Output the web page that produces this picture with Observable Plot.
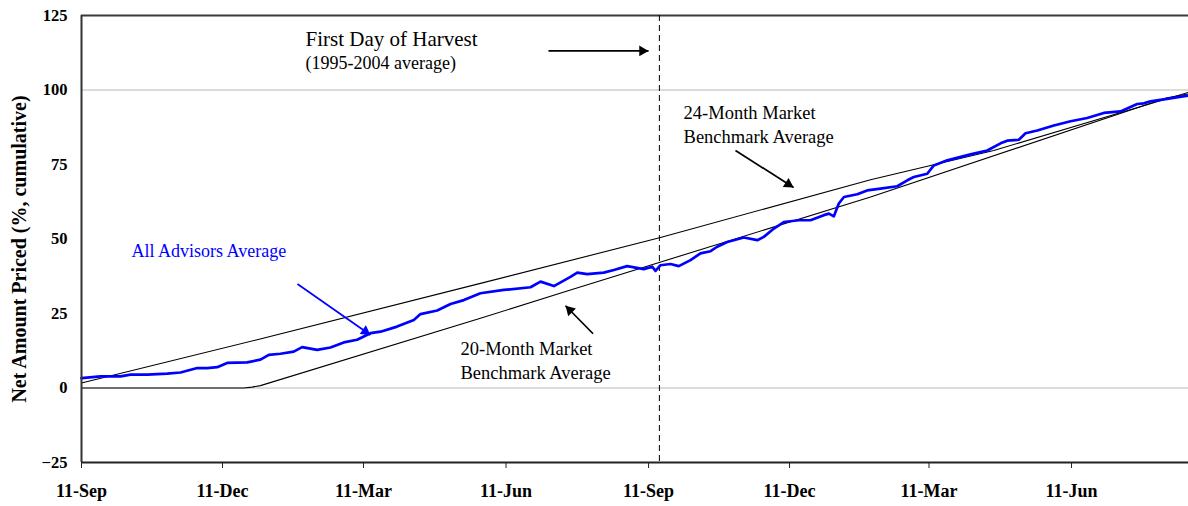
<!DOCTYPE html>
<html>
<head>
<meta charset="utf-8">
<script src="https://cdn.jsdelivr.net/npm/d3@7"></script>
<script src="https://cdn.jsdelivr.net/npm/@observablehq/plot@0.6"></script>
<style>
  html, body { margin: 0; padding: 0; background: #ffffff; }
  #chart { width: 1188px; height: 506px; }
</style>
</head>
<body>
<div id="chart"></div>
<script>
// ---- Data (days since 11-Sep of the first marketing year) ----
const startISO = "2003-09-11";
const endDay = 714.5;
const harvestDay = 373;

const xTickDates = ["2003-09-11", "2003-12-11", "2004-03-11", "2004-06-11",
                    "2004-09-11", "2004-12-11", "2005-03-11", "2005-06-11"];
const yTicks = [-25, 0, 25, 50, 75, 100, 125];
const gridValues = [0, 100];

const advisorDays = [0, 12.3, 25.2, 31.6, 42.4, 55.3, 63.9, 74.7, 81.1, 87.6, 94.0, 106.9, 115.5, 120.9,
  128.4, 137.0, 142.4, 152.1, 160.7, 169.3, 177.9, 186.5, 193.0, 203.7, 214.5, 218.8, 229.6, 238.2,
  246.8, 257.5, 272.6, 289.8, 296.3, 304.9, 315.6, 320.0, 326.4, 337.1, 343.6, 352.2, 362.9, 368.4,
  370.5, 373.7, 380.2, 385.5, 393.1, 399.5, 406.0, 410.3, 416.8, 427.5, 436.2, 440.4, 446.9, 453.3,
  463.0, 470.5, 479.1, 482.4, 485.6, 488.8, 492.1, 500.7, 507.1, 515.7, 526.5, 533.0, 537.2, 545.9,
  550.1, 558.8, 573.8, 584.6, 593.2, 597.5, 605.0, 609.3, 616.9, 627.6, 638.4, 649.1, 659.8, 670.6,
  681.4, 685.6, 690.0, 700.7, 714.5];
const advisorValues = [3.3, 3.9, 3.9, 4.5, 4.5, 4.8, 5.2, 6.7, 6.7, 7.0, 8.4, 8.6, 9.5, 11.1,
  11.5, 12.2, 13.7, 12.8, 13.6, 15.3, 16.2, 18.4, 18.9, 20.6, 22.8, 24.8, 26.0, 28.2,
  29.5, 31.8, 32.9, 33.8, 35.7, 34.2, 37.3, 38.7, 38.2, 38.7, 39.6, 40.9, 39.9, 40.7,
  39.3, 41.2, 41.6, 40.9, 42.9, 45.2, 45.9, 47.4, 49.0, 50.5, 49.6, 50.7, 53.5, 55.7,
  56.3, 56.3, 58.0, 58.5, 57.6, 61.9, 64.1, 65.0, 66.3, 66.9, 67.7, 69.7, 70.8, 71.9,
  74.7, 76.4, 78.4, 79.7, 82.1, 83.0, 83.3, 85.5, 86.4, 88.1, 89.5, 90.6, 92.3, 92.8,
  95.3, 95.5, 96.2, 97.0, 98.1];

const bench24Days = [0, 113.4, 257.5, 373.7, 509.3, 588.8, 714.5];
const bench24Values = [1.7, 16.2, 35.1, 50.5, 69.9, 79.7, 99.2];

const bench20Days = [0, 104.8, 110, 115.5, 257.5, 315.6, 509.3, 700.7, 714.5];
const bench20Values = [0, 0, 0.3, 0.8, 23.4, 32.9, 64.1, 97.4, 98.7];

// ---- Build tables ----
const start = new Date(startISO + "T00:00:00Z");
const toDate = d => new Date(+start + d * 864e5);
const series = (days, vals) => days.map((d, i) => ({date: toDate(d), value: vals[i]}));
const advisors = series(advisorDays, advisorValues);
const bench24 = series(bench24Days, bench24Values);
const bench20 = series(bench20Days, bench20Values);
const xTicks = xTickDates.map(s => new Date(s + "T00:00:00Z"));

const W = 1188, H = 506, mL = 81, mR = 0, mT = 15, mB = 44;
const xDomain = [start, toDate(endDay)];
const yDomain = [-25, 125];

// annotations (data coordinates)
const notesBlack = [
  {x: toDate(388.6), y: 82.1, text: "24-Month Market\nBenchmark Average"},
  {x: toDate(244.6), y: 3.0, text: "20-Month Market\nBenchmark Average"}
];
const arrowDefs = [
  {x1: toDate(301.4), y1: 113.1, x2: toDate(366.0), y2: 113.1, color: "#000000"},
  {x1: toDate(422.1), y1: 79.7, x2: toDate(459.6), y2: 67.3, color: "#000000"},
  {x1: toDate(330.2), y1: 18.2, x2: toDate(312.4), y2: 27.6, color: "#000000"},
  {x1: toDate(139.4), y1: 34.9, x2: toDate(186.5), y2: 17.8, color: "#0000ff"}
];

// filled arrow heads: triangle symbols placed and rotated through the same scales
const sx = Plot.scale({x: {type: "utc", domain: xDomain, range: [mL, W - mR]}});
const sy = Plot.scale({y: {type: "linear", domain: yDomain, range: [H - mB, mT]}});
const headR = 4;
const headH = Math.sqrt((Math.PI * headR * headR) / (3 * Math.sqrt(3)));
const heads = arrowDefs.map(a => {
  const px1 = sx.apply(a.x1), py1 = sy.apply(a.y1), px2 = sx.apply(a.x2), py2 = sy.apply(a.y2);
  const ang = Math.atan2(py2 - py1, px2 - px1);
  const cx = px2 - 2 * headH * Math.cos(ang), cy = py2 - 2 * headH * Math.sin(ang);
  return {x: sx.invert(cx), y: sy.invert(cy), rot: ang * 180 / Math.PI + 90, color: a.color};
});

const serif = "'Liberation Serif', 'Times New Roman', Times, serif";

const chart = Plot.plot({
  width: W,
  height: H,
  marginLeft: mL,
  marginRight: mR,
  marginTop: mT,
  marginBottom: mB,
  style: {fontFamily: serif, background: "#ffffff", color: "#000000"},
  x: {type: "utc", domain: xDomain},
  y: {domain: yDomain},
  marks: [
    Plot.ruleY(gridValues, {stroke: "#b8b8b8", strokeWidth: 1}),
    Plot.ruleY([125], {stroke: "#3a3a3a", strokeWidth: 2}),
    Plot.ruleX([toDate(harvestDay)], {stroke: "#000", strokeWidth: 1, strokeDasharray: "6,4"}),
    Plot.line(bench24, {x: "date", y: "value", stroke: "#000", strokeWidth: 1.1}),
    Plot.line(bench20, {x: "date", y: "value", stroke: "#000", strokeWidth: 1.1}),
    Plot.line(advisors, {x: "date", y: "value", stroke: "#0000ff", strokeWidth: 2.7, strokeLinejoin: "round"}),
    Plot.axisY({ticks: yTicks, tickSize: 0, tickPadding: 14, fontSize: 16.5, fontWeight: "bold",
                fontFamily: serif, label: null}),
    Plot.axisX({ticks: xTicks, tickSize: 6, tickPadding: 16, tickFormat: d3.utcFormat("%d-%b"),
                fontSize: 18, fontWeight: "bold", fontFamily: serif, label: null, stroke: "#222"}),
    Plot.ruleY([-25], {stroke: "#222", strokeWidth: 2}),
    Plot.ruleX([start], {stroke: "#333", strokeWidth: 2}),
    Plot.text(["Net Amount Priced (%, cumulative)"], {frameAnchor: "left", textAnchor: "middle",
      dx: -62, dy: 10, rotate: -90, fontSize: 20, fontWeight: "bold", fontFamily: serif, fill: "#000"}),
    Plot.text([{x: toDate(144.6), y: 114.6, text: "First Day of Harvest"}],
      {x: "x", y: "y", text: "text", textAnchor: "start", lineAnchor: "bottom", fontSize: 21, fill: "#000"}),
    Plot.text([{x: toDate(144.6), y: 107.2, text: "(1995-2004 average)"}],
      {x: "x", y: "y", text: "text", textAnchor: "start", lineAnchor: "bottom", fontSize: 18, fill: "#000"}),
    Plot.text(notesBlack, {x: "x", y: "y", text: "text", textAnchor: "start", lineAnchor: "bottom",
      fontSize: 18.5, lineHeight: 1.3, fill: "#000"}),
    Plot.text([{x: toDate(32.3), y: 43.9, text: "All Advisors Average"}],
      {x: "x", y: "y", text: "text", textAnchor: "start", lineAnchor: "bottom", fontSize: 18, fill: "#0000ff"}),
    Plot.link(arrowDefs, {x1: "x1", y1: "y1", x2: "x2", y2: "y2", stroke: "color", strokeWidth: 1.7}),
    Plot.dot(heads, {x: "x", y: "y", symbol: "triangle", r: headR, rotate: "rot", fill: "color", stroke: "none"})
  ]
});
document.getElementById("chart").append(chart);
</script>
</body>
</html>
